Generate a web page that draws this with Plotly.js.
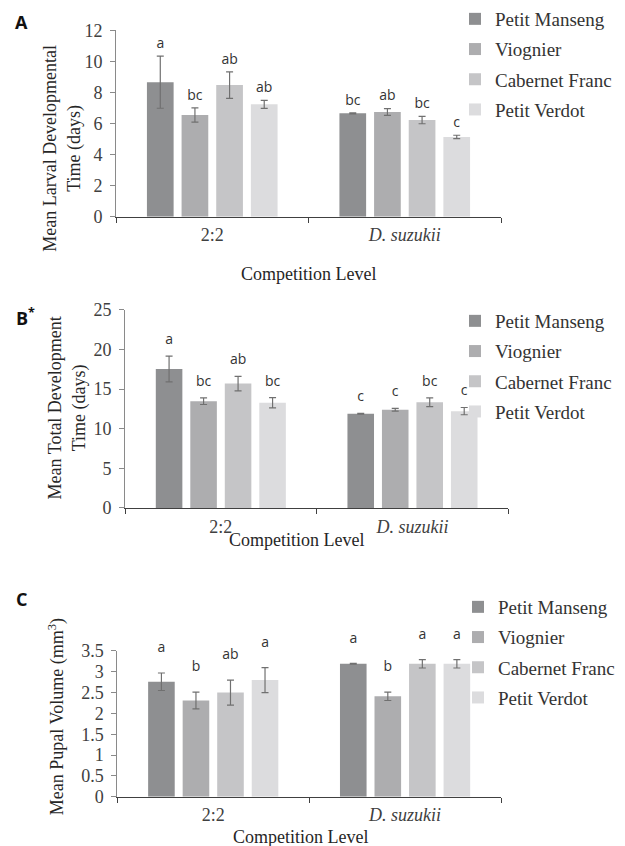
<!DOCTYPE html>
<html>
<head>
<meta charset="utf-8">
<script src="https://cdn.plot.ly/plotly-3.0.1.min.js"></script>
<style>
  html, body { margin: 0; padding: 0; background: #ffffff; }
  #chart { width: 625px; height: 846px; }
</style>
</head>
<body>
<div id="chart"></div>
<script>
// ---------------- DATA ----------------
const categories = ['2:2', 'D. suzukii'];
const categoryLabels = ['2:2', '<i>D. suzukii</i>'];
const cultivars = ['Petit Manseng', 'Viognier', 'Cabernet Franc', 'Petit Verdot'];

// Panel A: Mean larval developmental time (days)
const larvalMean = [[8.67, 6.66], [6.56, 6.75], [8.48, 6.23], [7.24, 5.14]];
const larvalErr  = [[1.68, 0.03], [0.46, 0.22], [0.85, 0.24], [0.26, 0.11]];
const larvalLetters = [['a', 'bc'], ['bc', 'ab'], ['ab', 'bc'], ['ab', 'c']];

// Panel B: Mean total development time (days)
const totalMean = [[17.54, 11.89], [13.48, 12.39], [15.70, 13.35], [13.27, 12.22]];
const totalErr  = [[1.63, 0.05], [0.42, 0.17], [0.92, 0.55], [0.65, 0.46]];
const totalLetters = [['a', 'c'], ['bc', 'c'], ['ab', 'bc'], ['bc', 'c']];

// Panel C: Mean pupal volume (mm^3)
const pupalMean = [[2.76, 3.19], [2.31, 2.41], [2.50, 3.19], [2.80, 3.19]];
const pupalErr  = [[0.21, 0.01], [0.20, 0.10], [0.30, 0.10], [0.30, 0.10]];
const pupalLetters = [['a', 'a'], ['b', 'b'], ['ab', 'a'], ['a', 'a']];

const yTickA = [0, 2, 4, 6, 8, 10, 12];
const yTickB = [0, 5, 10, 15, 20, 25];
const yTickC = [0, 0.5, 1, 1.5, 2, 2.5, 3, 3.5];

// ---------------- STYLE ----------------
const colors = ['#8e8f91', '#adadaf', '#c5c5c7', '#dcdcde'];
const SERIF = '"Liberation Serif", "Times New Roman", "DejaVu Serif", serif';
const SANS = '"Open Sans", "Liberation Sans", sans-serif';
const W = 625, H = 846;
const px = v => v / W;
const py = v => 1 - v / H;

const panels = [
  { mean: larvalMean, err: larvalErr, letters: larvalLetters, xa: 'x',  ya: 'y',  legend: 'legend',  lift: 6,  tag: 'A' },
  { mean: totalMean,  err: totalErr,  letters: totalLetters,  xa: 'x2', ya: 'y2', legend: 'legend2', lift: 12, tag: 'B' },
  { mean: pupalMean,  err: pupalErr,  letters: pupalLetters,  xa: 'x3', ya: 'y3', legend: 'legend3', lift: 26, tag: 'C' }
];

const traces = [];
panels.forEach(p => {
  cultivars.forEach((name, i) => {
    traces.push({
      type: 'bar',
      name: name,
      x: categories,
      y: p.mean[i],
      xaxis: p.xa, yaxis: p.ya,
      legend: p.legend,
      legendgroup: p.tag + i,
      offsetgroup: 'b' + i,
      marker: { color: colors[i], line: { width: 0 } },
      error_y: { type: 'data', array: p.err[i], visible: true, color: '#707070', thickness: 1.2, width: 3.5 },
      hoverinfo: 'x+y+name'
    });
  });
  cultivars.forEach((name, i) => {
    traces.push({
      type: 'scatter',
      mode: 'markers+text',
      x: categories,
      y: p.mean[i].map((v, k) => v + p.err[i][k]),
      text: p.letters[i],
      textposition: 'top center',
      textfont: { family: SANS, size: 14, color: '#333333' },
      marker: { size: p.lift, opacity: 0 },
      xaxis: p.xa, yaxis: p.ya,
      offsetgroup: 'b' + i,
      showlegend: false,
      hoverinfo: 'skip',
      cliponaxis: false
    });
  });
});

function xAxis(d0, d1, anchor) {
  return {
    domain: [px(d0), px(d1)], anchor: anchor, type: 'category',
    tickvals: categories, ticktext: categoryLabels,
    showline: true, linecolor: '#404040', linewidth: 1,
    ticks: 'outside', tickson: 'boundaries', ticklen: 5, tickcolor: '#404040', tickwidth: 1,
    tickfont: { family: SERIF, size: 18, color: '#404040' },
    ticklabelstandoff: 2,
    showgrid: false, zeroline: false, fixedrange: true
  };
}
function yAxis(top, bottom, anchor, range, tickvals) {
  return {
    domain: [py(bottom), py(top)], anchor: anchor, range: range,
    tickvals: tickvals,
    showline: true, linecolor: '#8a8a8a', linewidth: 1,
    ticks: 'outside', ticklen: 5, tickcolor: '#8a8a8a', tickwidth: 1,
    tickfont: { family: SERIF, size: 18, color: '#404040' },
    ticklabelstandoff: 4,
    showgrid: false, zeroline: false, fixedrange: true
  };
}

function legendAt(xp, yp) {
  return {
    x: px(xp), y: py(yp), xanchor: 'left', yanchor: 'top',
    font: { family: SERIF, size: 19, color: '#333333' },
    bgcolor: 'rgba(0,0,0,0)', borderwidth: 0,
    traceorder: 'grouped', tracegroupgap: 2.5, itemclick: false, itemdoubleclick: false
  };
}

const titleFont = { family: SERIF, size: 18, color: '#262626' };
function ann(text, x, y, extra) {
  return Object.assign({
    text: text, xref: 'paper', yref: 'paper', x: px(x), y: py(y),
    xanchor: 'center', yanchor: 'middle', showarrow: false, font: titleFont
  }, extra || {});
}
const tagFont = { family: SANS, size: 18, color: '#111111', weight: 'bold' };

const layout = {
  width: W, height: H,
  margin: { l: 0, r: 0, t: 0, b: 0 },
  paper_bgcolor: '#ffffff', plot_bgcolor: '#ffffff',
  font: { family: SERIF },
  barmode: 'group', bargap: 0.28, bargroupgap: 0.23,
  scattermode: 'group', scattergap: 0.28,
  showlegend: true,
  xaxis: xAxis(116, 501, 'y'),
  yaxis: yAxis(29.5, 216, 'x', [0, 12], yTickA),
  xaxis2: xAxis(125, 508.3, 'y2'),
  yaxis2: yAxis(309.3, 507.5, 'x2', [0, 25], yTickB),
  xaxis3: xAxis(117.3, 501, 'y3'),
  yaxis3: yAxis(650.7, 796.7, 'x3', [0, 3.5], yTickC),
  legend: legendAt(455, -1.5),
  legend2: legendAt(455, 302),
  legend3: legendAt(458, 588),
  annotations: [
    ann('<b>A</b>', 21, 21, { font: tagFont }),
    ann('<b>B<sup>*</sup></b>', 25, 316, { font: tagFont }),
    ann('<b>C</b>', 21, 599, { font: tagFont }),
    ann('Mean Larval Developmental<br>Time (days)', 62, 148, { textangle: -90 }),
    ann('Mean Total Development<br>Time (days)', 67, 408, { textangle: -90 }),
    ann('Mean Pupal Volume (mm<sup>3</sup>)', 57, 717, { textangle: -90 }),
    ann('Competition Level', 308, 273),
    ann('Competition Level', 296, 540),
    ann('Competition Level', 300, 837)
  ]
};

Plotly.newPlot('chart', traces, layout, { staticPlot: true, displayModeBar: false });
</script>
</body>
</html>
